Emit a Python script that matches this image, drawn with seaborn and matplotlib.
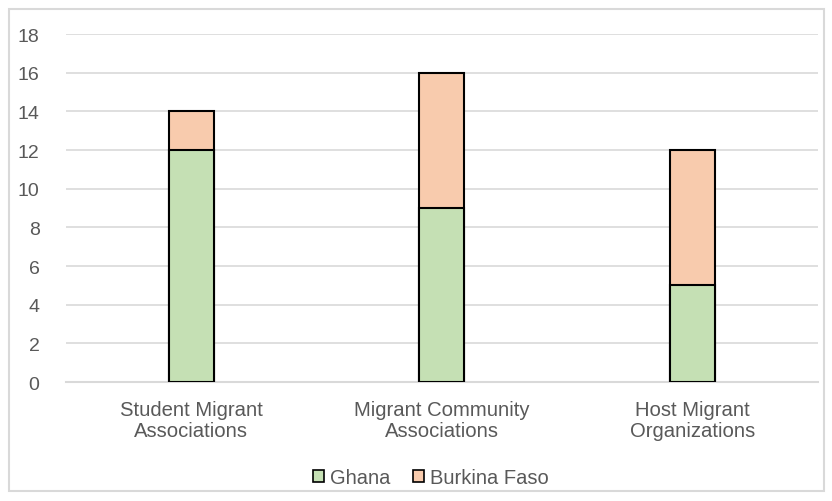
import matplotlib
matplotlib.use("Agg")
import matplotlib.pyplot as plt
from matplotlib.patches import Rectangle, Patch
import seaborn as sns
import pandas as pd

# Membership counts per association type
categories = ["Student Migrant\nAssociations", "Migrant Community\nAssociations", "Host Migrant\nOrganizations"]
ghana = [12, 9, 5]
burkina_faso = [2, 7, 7]
yticks = [0, 2, 4, 6, 8, 10, 12, 14, 16, 18]

GREEN = "#C5E0B4"
PEACH = "#F8CBAD"
GRID = "#D9D9D9"
TEXT = "#595959"

sns.set_theme(style="white")
plt.rcParams["font.family"] = ["Liberation Sans", "DejaVu Sans"]

df = pd.DataFrame({
    "category": categories,
    "Ghana": ghana,
    "Burkina Faso": burkina_faso,
})
df["total"] = df["Ghana"] + df["Burkina Faso"]

fig = plt.figure(figsize=(8.32, 5.02), dpi=100)
ax = fig.add_axes([0.0793, 0.237, 0.9037, 0.693])

# Stacked bars: full height in peach, Ghana share drawn over it in green
sns.barplot(data=df, x="category", y="total", color=PEACH, width=0.18,
            edgecolor="black", linewidth=1.5, saturation=1, ax=ax, zorder=3)
sns.barplot(data=df, x="category", y="Ghana", color=GREEN, width=0.18,
            edgecolor="black", linewidth=1.5, saturation=1, ax=ax, zorder=4)

ax.set_ylim(0, 18)
ax.set_xlim(-0.5, 2.5)
ax.set_yticks(yticks)
ax.set_xlabel("")
ax.set_ylabel("")
ax.yaxis.grid(True, color=GRID, linewidth=1.2, zorder=0)
ax.set_axisbelow(True)
for side in ["top", "right", "left"]:
    ax.spines[side].set_visible(False)
ax.spines["bottom"].set_color(GRID)
ax.spines["bottom"].set_linewidth(1.5)
ax.spines["bottom"].set_zorder(1)

ax.tick_params(axis="y", length=0, pad=19, labelsize=14, labelcolor=TEXT)
ax.tick_params(axis="x", length=0, pad=13, labelsize=14.6, labelcolor=TEXT)
for lbl in ax.get_xticklabels():
    lbl.set_linespacing(1.15)

handles = [
    Patch(facecolor=GREEN, edgecolor="black", linewidth=1.2, label="Ghana"),
    Patch(facecolor=PEACH, edgecolor="black", linewidth=1.2, label="Burkina Faso"),
]
leg = ax.legend(handles=handles, loc="center", bbox_to_anchor=(0.485, -0.275),
                ncol=2, frameon=False, fontsize=14.5, handlelength=0.55,
                handleheight=0.55, handletextpad=0.3, columnspacing=1.1)
for t in leg.get_texts():
    t.set_color(TEXT)

# Light chart-area frame
fig.patches.append(Rectangle((9 / 832, 10 / 502), 815 / 832, 482 / 502,
                             transform=fig.transFigure, fill=False,
                             edgecolor=GRID, linewidth=1.5))

fig.savefig("out.png", dpi=100)
